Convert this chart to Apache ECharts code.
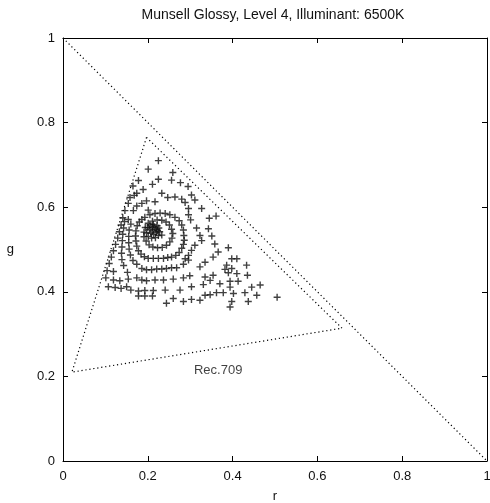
<!DOCTYPE html>
<html>
<head>
<meta charset="utf-8">
<script src="https://cdn.jsdelivr.net/npm/echarts@6/dist/echarts.min.js"></script>
<style>html,body{margin:0;padding:0;background:#fff}#c{width:490px;height:503px}</style>
</head>
<body>
<div id="c"></div>
<script>
// ---- data (r, g chromaticity) ----
const titleText = 'Munsell Glossy, Level 4, Illuminant: 6500K';
const xTicks = [0, 0.2, 0.4, 0.6, 0.8, 1];
const yTicks = [0, 0.2, 0.4, 0.6, 0.8, 1];
const diagonal = [[0, 1], [1, 0]];
const rec709 = [[0.197, 0.765], [0.021, 0.210], [0.658, 0.314], [0.197, 0.765]];
const rec709Label = [[0.366, 0.213]];

const coreSpiral = [
  [0.200,0.552],[0.205,0.558],[0.213,0.559],[0.222,0.556],[0.226,0.551],[0.228,0.542],[0.225,0.533],
  [0.218,0.528],[0.209,0.527],[0.201,0.531],[0.197,0.539],[0.204,0.548],[0.211,0.552],[0.219,0.548],
  [0.220,0.541],[0.214,0.536],[0.207,0.539],[0.211,0.544],[0.233,0.534],[0.215,0.554],[0.223,0.545]
];
const innerRing = [
  [0.201,0.562],[0.211,0.567],[0.222,0.570],[0.233,0.569],[0.243,0.565],[0.251,0.558],[0.256,0.548],
  [0.259,0.538],[0.257,0.527],[0.252,0.518],[0.244,0.510],[0.234,0.505],[0.223,0.504],[0.212,0.506],
  [0.203,0.511],[0.196,0.520],[0.191,0.530],[0.191,0.541],[0.194,0.552]
];
const middleRing = [
  [0.193,0.576],[0.205,0.582],[0.217,0.585],[0.229,0.586],[0.241,0.585],[0.252,0.582],[0.264,0.576],
  [0.274,0.568],[0.280,0.558],[0.284,0.546],[0.285,0.533],[0.286,0.522],[0.284,0.512],[0.280,0.503],
  [0.274,0.493],[0.266,0.486],[0.256,0.482],[0.247,0.481],[0.237,0.479],[0.225,0.479],[0.213,0.479],
  [0.201,0.479],[0.192,0.483],[0.184,0.489],[0.178,0.497],[0.174,0.508],[0.172,0.520],[0.171,0.532],
  [0.172,0.544],[0.175,0.556],[0.180,0.565],[0.186,0.571]
];
const upperPoints = [
  [0.225,0.710],[0.201,0.690],[0.259,0.682],[0.225,0.666],[0.256,0.664],[0.277,0.658],[0.295,0.649],
  [0.178,0.663],[0.165,0.650],[0.211,0.654],[0.189,0.642],[0.174,0.633],[0.233,0.633],[0.303,0.629],
  [0.158,0.623],[0.168,0.628],[0.197,0.615],[0.217,0.613],[0.247,0.623],[0.264,0.624],[0.280,0.619],
  [0.288,0.611],[0.311,0.617],[0.154,0.609],[0.186,0.609],[0.174,0.603],[0.166,0.592],[0.146,0.592],
  [0.201,0.593],[0.327,0.597],[0.296,0.597],[0.296,0.582],[0.301,0.570],[0.345,0.574],[0.361,0.579],
  [0.154,0.571]
];
const rightPoints = [
  [0.315,0.551],[0.343,0.549],[0.323,0.533],[0.327,0.521],[0.351,0.532],[0.311,0.510],[0.303,0.498],
  [0.296,0.486],[0.288,0.478],[0.358,0.513],[0.390,0.504],[0.366,0.494],[0.354,0.482],[0.398,0.478],
  [0.410,0.478],[0.323,0.459],[0.335,0.470],[0.386,0.463],[0.382,0.453],[0.398,0.455],[0.390,0.445],
  [0.410,0.443],[0.433,0.463],[0.435,0.439],[0.354,0.439],[0.335,0.435],[0.347,0.427],[0.370,0.419],
  [0.394,0.425],[0.394,0.411],[0.413,0.425],[0.331,0.417],[0.445,0.411],[0.465,0.416],[0.362,0.398],
  [0.378,0.398],[0.347,0.393],[0.335,0.392],[0.402,0.396],[0.429,0.398],[0.457,0.392],[0.260,0.384],
  [0.284,0.377],[0.303,0.382],[0.323,0.380],[0.398,0.377],[0.394,0.364],[0.437,0.377],[0.505,0.387]
];
const leftPoints = [
  [0.141,0.575],[0.137,0.558],[0.133,0.542],[0.129,0.527],[0.124,0.512],[0.119,0.497],[0.114,0.482],[0.109,0.467],
  [0.145,0.566],[0.143,0.551],[0.141,0.536],[0.140,0.521],[0.139,0.506],[0.138,0.491],[0.139,0.476],[0.143,0.462],
  [0.160,0.560],[0.156,0.546],[0.155,0.531],[0.155,0.516],[0.156,0.501],[0.159,0.487],[0.165,0.474],[0.174,0.465]
];
const bottomPoints = [
  [0.186,0.455],[0.197,0.452],[0.209,0.452],[0.221,0.454],[0.233,0.454],[0.244,0.455],[0.256,0.457],
  [0.268,0.457],[0.284,0.465],[0.296,0.475],
  [0.104,0.450],[0.119,0.448],[0.152,0.446],
  [0.101,0.433],[0.119,0.428],[0.134,0.426],[0.154,0.430],[0.174,0.433],[0.186,0.428],[0.197,0.426],
  [0.217,0.428],[0.237,0.428],[0.260,0.430],[0.284,0.433],[0.299,0.438],
  [0.107,0.412],[0.123,0.410],[0.137,0.408],[0.150,0.412],[0.160,0.404],[0.178,0.402],[0.193,0.403],
  [0.213,0.403],[0.241,0.404],[0.276,0.404],[0.303,0.412],
  [0.178,0.390],[0.193,0.390],[0.211,0.390],[0.244,0.373]
];

// ---- chart ----
const FONT = "'Liberation Sans', Arial, Helvetica, sans-serif";
const TXT = '#111';
const cross = 'path://M4,0H6V4H10V6H6V10H4V6H0V4H4Z';
const fmt = v => String(+(+v).toFixed(2));

function axisBase(pos, labels) {
  return {
    type: 'value', min: 0, max: 1, interval: 0.2, position: pos,
    axisLine: { show: true, onZero: false, lineStyle: { color: '#000', width: 1 } },
    axisTick: { show: true, inside: true, length: 5, lineStyle: { color: '#000', width: 1 } },
    axisLabel: { show: labels, color: TXT, fontSize: 13, fontFamily: FONT, formatter: fmt, hideOverlap: false },
    splitLine: { show: false }
  };
}
const xMain = Object.assign(axisBase('bottom', true), {
  name: 'r', nameLocation: 'middle', nameGap: 29,
  nameTextStyle: { color: TXT, fontSize: 13, fontFamily: FONT }
});
xMain.axisLabel.margin = 9;
const xTop = axisBase('top', false);
const yMain = Object.assign(axisBase('left', true), {
  name: 'g', nameLocation: 'middle', nameGap: 49, nameRotate: 0,
  nameTextStyle: { color: TXT, fontSize: 13, fontFamily: FONT }
});
yMain.axisLabel.margin = 8;
const yRight = axisBase('right', false);

const scatterStyle = { color: '#111' };
const groups = [coreSpiral, innerRing, middleRing, upperPoints, rightPoints, leftPoints, bottomPoints];

const chart = echarts.init(document.getElementById('c'), null, { renderer: 'canvas' });
chart.setOption({
  animation: false,
  backgroundColor: '#fff',
  grid: { left: 63, right: 3, top: 38, bottom: 42, containLabel: false, outerBoundsMode: 'none' },
  xAxis: [xMain, xTop],
  yAxis: [yMain, yRight],
  graphic: [{
    type: 'text', x: 273, y: 15,
    style: { text: titleText, fill: TXT, font: '14px ' + FONT, textAlign: 'center', textVerticalAlign: 'middle' }
  }],
  series: [
    { type: 'line', data: diagonal, symbol: 'none', silent: true,
      lineStyle: { color: '#000', width: 1.2, type: [1.2, 2.8] } },
    { type: 'line', data: rec709, symbol: 'none', silent: true,
      lineStyle: { color: '#000', width: 1.2, type: [1.2, 2.8] } },
    ...groups.map(g => ({ type: 'scatter', data: g, symbol: cross, symbolSize: 7,
      itemStyle: scatterStyle, silent: true })),
    { type: 'scatter', data: rec709Label, symbolSize: 1, silent: true,
      itemStyle: { color: 'rgba(0,0,0,0)' },
      label: { show: true, position: 'inside', formatter: 'Rec.709', color: TXT, fontSize: 13, fontFamily: FONT } }
  ]
});
</script>
</body>
</html>
